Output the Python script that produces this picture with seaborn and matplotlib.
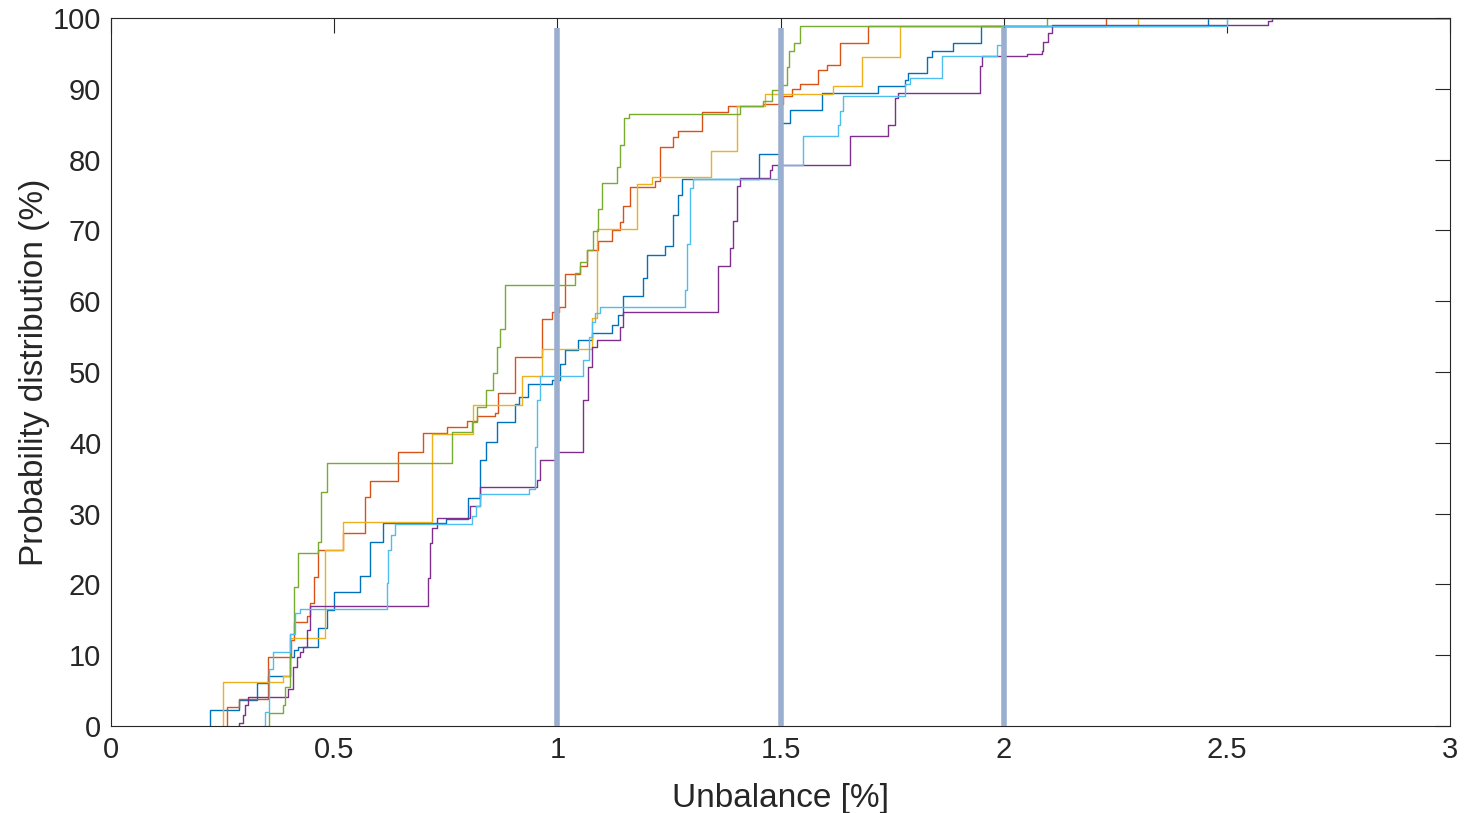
import pandas as pd
import numpy as np
import matplotlib.pyplot as plt
import seaborn as sns

# ── DATA (step breakpoints) ────────────────────────────────────
blue_x = [0.222, 0.222, 0.287, 0.327, 0.352, 0.401, 0.41, 0.42, 0.464, 0.483, 0.50, 0.558, 0.58, 0.609,
          0.75, 0.80, 0.827, 0.84, 0.865, 0.905, 0.915, 0.935, 0.988, 1.006, 1.017, 1.046, 1.077, 1.122,
          1.136, 1.147, 1.191, 1.20, 1.241, 1.259, 1.27, 1.279, 1.452, 1.50, 1.522, 1.593, 1.718, 1.778,
          1.786, 1.828, 1.839, 1.886, 1.949, 2.458, 3.0]
blue_y = [0, 2.3, 3.7, 6.1, 7.1, 9.7, 10.7, 11.2, 13.8, 16.4, 18.9, 21.2, 26, 28.7,
          29.2, 32.2, 37.6, 40.1, 42.9, 45.5, 46.5, 48.3, 48.9, 51.1, 53.1, 54.5, 55.5, 56.6,
          58, 60.7, 63.3, 66.5, 67.8, 72.2, 75, 77.3, 80.8, 85.2, 87, 89.4, 90.4, 91.2,
          92.2, 94.5, 95.3, 96.5, 98.9, 100, 100]

orange_x = [0.26, 0.26, 0.287, 0.352, 0.404, 0.41, 0.44, 0.446, 0.455, 0.464, 0.52, 0.569, 0.58, 0.643,
            0.699, 0.753, 0.797, 0.82, 0.86, 0.867, 0.905, 0.965, 0.988, 1.004, 1.017, 1.051, 1.066,
            1.092, 1.122, 1.14, 1.148, 1.163, 1.219, 1.23, 1.26, 1.27, 1.324, 1.383, 1.461, 1.506,
            1.525, 1.544, 1.584, 1.604, 1.633, 1.696, 2.23, 3.0]
orange_y = [0, 2.7, 3.8, 9.7, 12.1, 14.7, 15.5, 17.4, 21, 24.9, 27.2, 32.4, 34.6, 38.7,
            41.4, 42.2, 43.1, 43.8, 44.2, 47, 52.1, 57.5, 58.4, 59.2, 63.8, 65, 67.2,
            68.5, 70, 71.2, 73.4, 76.1, 77, 81.8, 83.2, 84, 86.7, 87.6, 87.8, 89,
            89.9, 90.6, 92.7, 93.4, 96.5, 98.8, 100, 100]

yellow_x = [0.251, 0.251, 0.386, 0.401, 0.479, 0.519, 0.719, 0.811, 0.921, 0.965, 1.077, 1.088,
            1.179, 1.211, 1.344, 1.403, 1.465, 1.618, 1.683, 1.768, 2.30, 3.0]
yellow_y = [0, 6.2, 7, 12.4, 24.9, 28.8, 41.2, 45.3, 49.4, 53.2, 57.6, 70.2,
            76.6, 77.5, 81.2, 87.6, 89.3, 90.4, 94.5, 98.9, 100, 100]

purple_x = [0.285, 0.287, 0.295, 0.30, 0.307, 0.397, 0.408, 0.416, 0.423, 0.43, 0.439, 0.446,
            0.711, 0.715, 0.72, 0.73, 0.805, 0.827, 0.954, 0.961, 0.995, 1.058, 1.069, 1.077,
            1.089, 1.14, 1.147, 1.36, 1.387, 1.394, 1.402, 1.409, 1.476, 1.48, 1.656, 1.741,
            1.756, 1.764, 1.947, 1.952, 2.052, 2.085, 2.088, 2.10, 2.108, 2.592, 2.60, 3.0]
purple_y = [0, 0.4, 1.5, 3, 4.1, 5.2, 8.3, 9.7, 10.5, 11.2, 13.6, 16.9,
            20.9, 25.8, 28, 29.4, 31, 33.7, 34.7, 37.6, 38.7, 46, 50.7, 53.5,
            54.5, 56.3, 58.5, 65, 67.5, 71.3, 76.3, 77.4, 78.5, 79.2, 83.3, 84.9,
            88.7, 89.4, 93.2, 94.6, 94.9, 95.3, 96.6, 97.9, 99, 99.6, 100, 100]

green_x = [0.352, 0.355, 0.385, 0.39, 0.40, 0.41, 0.418, 0.464, 0.47, 0.483, 0.763, 0.808, 0.82,
           0.84, 0.855, 0.865, 0.872, 0.883, 1.04, 1.051, 1.066, 1.08, 1.09, 1.10, 1.133, 1.14,
           1.15, 1.16, 1.409, 1.46, 1.48, 1.50, 1.515, 1.52, 1.53, 1.544, 2.097, 3.0]
green_y = [0, 1.8, 3, 5.5, 13, 19.6, 24.4, 26, 33, 37.2, 41.5, 43, 45,
           47.5, 49.8, 53.5, 56, 62.3, 64, 65.5, 67.2, 69.9, 73, 76.7, 79, 82,
           85.9, 86.4, 87.6, 88.2, 89.8, 90.5, 93, 95.3, 96.5, 98.9, 100, 100]

lightblue_x = [0.341, 0.345, 0.355, 0.363, 0.401, 0.412, 0.423, 0.618, 0.621, 0.628, 0.636, 0.809,
               0.818, 0.827, 0.937, 0.95, 0.955, 0.961, 1.058, 1.07, 1.077, 1.084, 1.096, 1.286,
               1.29, 1.297, 1.304, 1.495, 1.551, 1.629, 1.633, 1.64, 1.779, 1.79, 1.862, 1.985,
               1.999, 2.50, 3.0]
lightblue_y = [0, 2, 8, 10.5, 13, 16, 16.5, 20.2, 24.8, 27, 28.5, 29.6,
               31, 32.7, 33.5, 39.4, 46, 49.4, 51.7, 55, 57, 58.3, 59.2, 61.6,
               68, 76, 77.3, 79.2, 83.3, 84.9, 86.8, 89, 90.6, 91.5, 94.6, 96.2,
               98.9, 100, 100]

series = {
    'A': (blue_x, blue_y),
    'B': (orange_x, orange_y),
    'C': (yellow_x, yellow_y),
    'D': (purple_x, purple_y),
    'E': (green_x, green_y),
    'F': (lightblue_x, lightblue_y),
}
colors = ['#0072BD', '#D95319', '#EDB120', '#7E2F8E', '#77AC30', '#4DBEEE']

limit_x = [1.0, 1.5, 2.0]
limit_top = 98.6

x_ticks = [0, 0.5, 1, 1.5, 2, 2.5, 3]
x_ticklabels = ['0', '0.5', '1', '1.5', '2', '2.5', '3']
y_ticks = list(range(0, 101, 10))

df = pd.concat([pd.DataFrame({'x': xs, 'y': ys, 'case': name})
                for name, (xs, ys) in series.items()], ignore_index=True)

# ── PLOT ─────────────────────────────────────────────────────
sns.set_style('white')
plt.rcParams['font.family'] = ['Liberation Sans', 'DejaVu Sans']

fig = plt.figure(figsize=(14.7, 8.13), dpi=100)
ax = fig.add_axes([0.0755, 0.107, 0.911, 0.871])

sns.lineplot(data=df, x='x', y='y', hue='case', palette=colors, estimator=None,
             sort=False, drawstyle='steps-post', linewidth=1.0, legend=False, ax=ax)

for xv in limit_x:
    ax.plot([xv, xv], [0, limit_top], color='#9AAFCF', linewidth=4.0,
            solid_capstyle='butt', zorder=5)

ax.set_xlim(0, 3)
ax.set_ylim(0, 100)
ax.set_xticks(x_ticks)
ax.set_xticklabels(x_ticklabels)
ax.set_yticks(y_ticks)
ax.tick_params(direction='in', length=11, width=0.8, colors='#262626',
               labelsize=21, top=True, right=True, pad=7)
for sp in ax.spines.values():
    sp.set_color('#262626')
    sp.set_linewidth(0.8)

ax.set_xlabel('Unbalance [%]', fontsize=24, color='#262626', labelpad=14)
ax.set_ylabel('Probability distribution (%)', fontsize=24, color='#262626', labelpad=2)

plt.savefig('out.png', dpi=100)
